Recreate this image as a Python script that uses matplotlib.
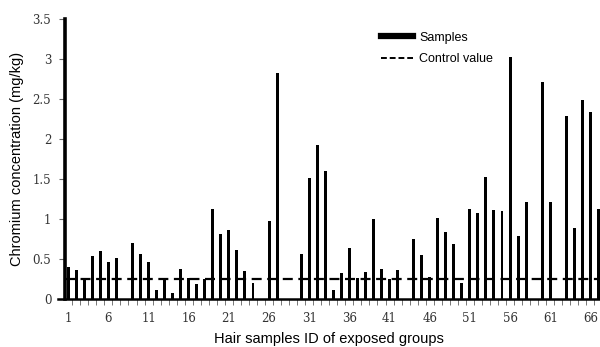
import numpy as np
import matplotlib.pyplot as plt
from matplotlib.lines import Line2D

# sample IDs 1..67 and chromium values (mg/kg)
sample_ids = list(range(1, 68))
chromium = [0.40, 0.36, 0.26, 0.54, 0.60, 0.46, 0.51, 0.00, 0.70, 0.56,
            0.47, 0.12, 0.25, 0.08, 0.38, 0.27, 0.19, 0.25, 1.13, 0.82,
            0.87, 0.62, 0.35, 0.20, 0.00, 0.98, 2.83, 0.00, 0.00, 0.56,
            1.52, 1.93, 1.60, 0.12, 0.33, 0.64, 0.26, 0.34, 1.00, 0.38,
            0.25, 0.36, 0.00, 0.75, 0.55, 0.28, 1.02, 0.84, 0.69, 0.20,
            1.13, 1.08, 1.53, 1.12, 1.10, 3.02, 0.79, 1.22, 0.00, 2.71,
            1.21, 0.00, 2.29, 0.89, 2.49, 2.34, 1.13]
control_value = 0.25
xtick_ids = list(range(1, 67, 5))
yticks = [0, 0.5, 1, 1.5, 2, 2.5, 3, 3.5]
ytick_labels = ['0', '0.5', '1', '1.5', '2', '2.5', '3', '3.5']

x_lo, x_axis, x_hi = -0.25, 0.62, 67.2

fig = plt.figure(figsize=(6, 3.47), dpi=100)
ax = fig.add_axes([0.097, 0.138, 0.903, 0.807])

ax.bar(sample_ids, chromium, width=0.37, color='black', zorder=3)
ax.hlines(control_value, x_axis, x_hi, color='black', lw=1.6, ls=(0, (4.5, 2.5)), zorder=4)

ax.set_xlim(x_lo, x_hi)
ax.set_ylim(0, 3.5)

for s in ['top', 'right']:
    ax.spines[s].set_visible(False)
ax.spines['left'].set_position(('data', x_axis))
ax.spines['left'].set_linewidth(2.6)
ax.spines['bottom'].set_linewidth(1.8)
ax.spines['left'].set_zorder(5)

ax.set_yticks(yticks)
ax.set_yticklabels(ytick_labels, family='DejaVu Serif', fontsize=8.5, color='#333333')
ax.tick_params(axis='y', length=4, width=0.8, color='#666666', pad=6)

ax.set_xticks(xtick_ids)
ax.set_xticklabels([str(v) for v in xtick_ids], family='DejaVu Serif', fontsize=8.5, color='#333333')
ax.set_xticks(np.arange(1.5, 67.5, 1), minor=True)
ax.tick_params(axis='x', which='major', length=0, pad=9)
ax.tick_params(axis='x', which='minor', length=4, width=0.7, color='#777777')

ax.set_ylabel('Chromium concentration (mg/kg)', family='Liberation Sans', fontsize=10.5, labelpad=6)
ax.set_xlabel('Hair samples ID of exposed groups', family='Liberation Sans', fontsize=10.5, labelpad=5)

handles = [Line2D([], [], color='black', lw=4.5),
           Line2D([], [], color='black', lw=1.4, ls=(0, (3, 1.5)))]
ax.legend(handles, ['Samples', 'Control value'], loc='upper left',
          bbox_to_anchor=(0.575, 0.995), frameon=False, handlelength=2.6,
          handletextpad=0.45, labelspacing=0.75, prop={'family': 'Liberation Sans', 'size': 9})

fig.savefig('out.png', dpi=100)
